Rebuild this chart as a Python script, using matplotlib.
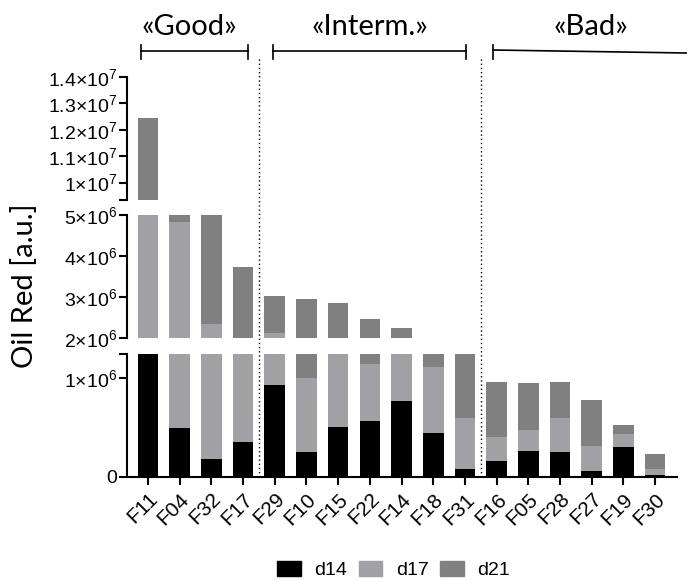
import matplotlib
matplotlib.use('Agg')
import matplotlib.pyplot as plt
from matplotlib.lines import Line2D
from matplotlib.patches import Patch
import matplotlib.transforms as mtransforms
import numpy as np

plt.rcParams['font.family'] = ['Liberation Sans', 'DejaVu Sans']
plt.rcParams['mathtext.fontset'] = 'custom'
plt.rcParams['mathtext.rm'] = 'Liberation Sans'
plt.rcParams['mathtext.it'] = 'Liberation Sans:italic'

samples = ['F11', 'F04', 'F32', 'F17', 'F29', 'F10', 'F15', 'F22', 'F14',
           'F18', 'F31', 'F16', 'F05', 'F28', 'F27', 'F19', 'F30']
d14 = [1.60e6, 0.50e6, 0.18e6, 0.35e6, 0.93e6, 0.25e6, 0.51e6, 0.57e6, 0.77e6,
       0.45e6, 0.08e6, 0.16e6, 0.26e6, 0.25e6, 0.06e6, 0.30e6, 0.02e6]
d17 = [5.40e6, 4.33e6, 2.17e6, 1.45e6, 1.19e6, 0.75e6, 1.09e6, 0.57e6, 0.83e6,
       0.66e6, 0.52e6, 0.24e6, 0.22e6, 0.35e6, 0.25e6, 0.14e6, 0.06e6]
d21 = [5.44e6, 0.37e6, 3.65e6, 1.93e6, 0.91e6, 1.95e6, 1.26e6, 1.32e6, 0.64e6,
       0.39e6, 0.90e6, 0.566e6, 0.47e6, 0.36e6, 0.47e6, 0.09e6, 0.15e6]

groups = ['«Good»', '«Interm.»', '«Bad»']
group_spans = [(-0.22, 3.15), (3.94, 10.03), (10.88, 17.0)]
group_centers = [1.29, 7.0, 13.97]
separators = [3.5, 10.5]

c14, c17, c21 = '#000000', '#a1a1a5', '#808080'

fig = plt.figure(figsize=(6.87, 5.8), dpi=100)
L, W = 127 / 687, 550 / 687
ax_top = fig.add_axes([L, 0.6552, W, 0.2121])
ax_mid = fig.add_axes([L, 0.4172, W, 0.2121])
ax_bot = fig.add_axes([L, 0.1776, W, 0.2121])

x = np.arange(len(samples))
b14 = np.array(d14)
b17 = np.array(d17)
b21 = np.array(d21)


def lab(m, e):
    return r'$%s{\times}10^{%d}$' % (m, e)


ax_top.set_ylim(9.34e6, 1.4e7)
ax_top.set_yticks([9.34e6, 1.0e7, 1.1e7, 1.2e7, 1.3e7, 1.4e7],
                  ['', lab('1', 7), lab('1.1', 7), lab('1.2', 7), lab('1.3', 7), lab('1.4', 7)])
ax_mid.set_ylim(2e6, 5e6)
ax_mid.set_yticks([2e6, 3e6, 4e6, 5e6], [lab('2', 6), lab('3', 6), lab('4', 6), lab('5', 6)])
ax_bot.set_ylim(0, 1.246e6)
ax_bot.set_yticks([0, 1e6, 1.246e6], ['0', lab('1', 6), ''])

for ax in (ax_top, ax_mid, ax_bot):
    ax.bar(x, b14, width=0.65, color=c14)
    ax.bar(x, b17, width=0.65, bottom=b14, color=c17)
    ax.bar(x, b21, width=0.65, bottom=b14 + b17, color=c21)
    ax.set_xlim(-0.66, 16.69)
    for s in ('top', 'right', 'bottom'):
        ax.spines[s].set_visible(False)
    ax.spines['left'].set_linewidth(1.5)
    if ax is not ax_bot:
        ax.set_xticks([])
    ax.tick_params(axis='y', direction='out', length=6, width=1.5, pad=1, labelsize=14)

ax_bot.spines['bottom'].set_visible(True)
ax_bot.spines['bottom'].set_linewidth(1.5)
ax_bot.set_xticks(x, samples)
ax_bot.tick_params(axis='x', direction='out', length=6, width=1.5, pad=3,
                   labelsize=15, labelrotation=45)
plt.setp(ax_bot.get_xticklabels(), ha='right', va='top', rotation_mode='anchor')

tr = mtransforms.blended_transform_factory(ax_bot.transData, fig.transFigure)
for sx in separators:
    fig.add_artist(Line2D([sx, sx], [0.1776, 0.9017], transform=tr, color='black',
                          lw=1.0, linestyle=(0, (1, 2))))

yb = 0.912
for (a, b), name, cx in zip(group_spans, groups, group_centers):
    if name == '«Bad»':
        fig.add_artist(Line2D([a, b], [0.9138, 0.9086], transform=tr, color='black', lw=1.2, clip_on=False))
        fig.add_artist(Line2D([a, a], [0.9224, 0.8983], transform=tr, color='black', lw=1.2))
    else:
        fig.add_artist(Line2D([a, b], [yb, yb], transform=tr, color='black', lw=1.2))
        for e in (a, b):
            fig.add_artist(Line2D([e, e], [0.9224, 0.8983], transform=tr, color='black', lw=1.2))
    fig.text(cx, 0.9397, name, transform=tr, ha='center', va='baseline',
             fontsize=21, family=['Lato', 'DejaVu Sans'])

fig.text(0.036, 0.507, 'Oil Red [a.u.]', rotation=90, ha='center', va='center',
         fontsize=21, family=['Lato', 'DejaVu Sans'])

handles = [Patch(color=c14), Patch(color=c17), Patch(color=c21)]
fig.legend(handles, ['d14', 'd17', 'd21'], loc='center', bbox_to_anchor=(0.573, 0.0172),
           ncol=3, frameon=False, fontsize=14, handlelength=1.2, handleheight=0.78,
           handletextpad=0.7, columnspacing=0.6, borderpad=0)

fig.savefig('out.png', dpi=100)
